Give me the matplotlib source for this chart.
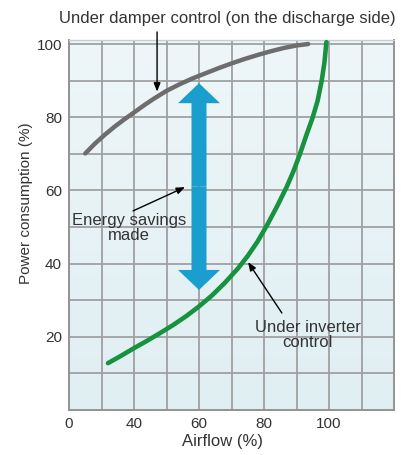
import matplotlib
matplotlib.use("Agg")
import matplotlib.pyplot as plt
import numpy as np
from matplotlib.patches import FancyArrowPatch
from matplotlib.colors import LinearSegmentedColormap

# ---- data ----
damper_x = [25, 28, 31, 34, 37, 40, 43, 46, 50, 54, 58, 62, 66, 70, 74, 78, 82, 86, 90, 93.6]
damper_y = [70.1, 72.8, 75.2, 77.4, 79.4, 81.3, 83.2, 85.0, 87.2, 89.0, 90.6, 92.0, 93.4, 94.7, 95.9, 97.0, 98.0, 98.9, 99.6, 100.0]

inverter_x = [32, 36, 40, 44, 48, 52, 56, 60, 64, 68, 72, 75, 78, 81, 84, 87, 89, 91, 93, 95, 96.5, 97.8, 98.6, 99.2]
inverter_y = [12.8, 14.8, 16.9, 18.9, 21.0, 23.2, 25.6, 28.3, 31.3, 34.8, 38.7, 42.1, 46.0, 50.6, 55.6, 61.0, 65.1, 69.8, 75.0, 80.0, 84.5, 90.2, 95.0, 100.5]

xtick_values = [20, 40, 60, 80, 100]
xtick_labels = ["0", "40", "60", "80", "100"]
ytick_values = [20, 40, 60, 80, 100]
ytick_labels = ["20", "40", "60", "80", "100"]

savings_x = 60
savings_top = 89.3
savings_bottom = 32.8

title_text = "Under damper control (on the discharge side)"
savings_text = "Energy savings\nmade"
inverter_text = "Under inverter\ncontrol"
xlabel_text = "Airflow (%)"
ylabel_text = "Power consumption (%)"

# ---- style ----
plt.rcParams['font.family'] = ['Liberation Sans', 'DejaVu Sans']
txt_color = '#333333'
grid_color = '#a0a0a0'

fig = plt.figure(figsize=(4.01, 4.55), dpi=100)
ax = fig.add_axes([69/401, 1-410/455, 325/401, 370/455])

# background gradient
cmap = LinearSegmentedColormap.from_list('bg', ['#e0eff2', '#eef6f9'])
grad = np.linspace(0, 1, 256).reshape(-1, 1)
ax.imshow(grad, extent=[0, 1, 0, 1], transform=ax.transAxes, cmap=cmap,
          origin='lower', aspect='auto', zorder=0)
ax.set_xlim(20, 120)
ax.set_ylim(0, 101.1)

ax.set_xticks(xtick_values)
ax.set_xticklabels(xtick_labels)
ax.set_xticks([30, 50, 70, 90, 110], minor=True)
ax.set_yticks(ytick_values)
ax.set_yticklabels(ytick_labels)
ax.set_yticks([10, 30, 50, 70, 90], minor=True)
ax.grid(True, which='both', color=grid_color, lw=1.3, zorder=1)
ax.set_axisbelow(True)
ax.tick_params(which='both', length=0, pad=5, labelsize=11, labelcolor=txt_color)

for side in ['left', 'bottom', 'right']:
    ax.spines[side].set_color('#939393')
    ax.spines[side].set_linewidth(1.4)
ax.spines['top'].set_color('#c5ced2')
ax.spines['top'].set_linewidth(1.0)

# curves
ax.plot(damper_x, damper_y, color='#6d6d6d', lw=3.2, solid_capstyle='round',
        solid_joinstyle='round', zorder=3)
ax.plot(inverter_x, inverter_y, color='#17923e', lw=3.3, solid_capstyle='round',
        solid_joinstyle='round', zorder=3)

# energy-savings double arrow (two filled halves)
mid = (savings_top + savings_bottom) / 2
for end in (savings_top, savings_bottom):
    p = FancyArrowPatch((savings_x, mid), (savings_x, end),
                        arrowstyle='simple,head_length=14.4,head_width=30.2,tail_width=10.8',
                        mutation_scale=1, shrinkA=0, shrinkB=0,
                        color='#1a9ecd', lw=0, zorder=4)
    ax.add_patch(p)

arrow_kw = dict(arrowstyle='-|>,head_length=0.5,head_width=0.2', color='black',
                lw=1.0, shrinkA=0, shrinkB=0)
ax.annotate('', xy=(47.1, 87.0), xytext=(47.1, 103.3), arrowprops=arrow_kw,
            annotation_clip=False, zorder=5)
ax.annotate('', xy=(55.7, 60.9), xytext=(39.7, 54.4), arrowprops=arrow_kw, zorder=5)
ax.annotate('', xy=(75.1, 40.4), xytext=(85.5, 26.5), arrowprops=arrow_kw, zorder=5)

ax.text(38.5, 49.7, savings_text, ha='center', va='center', fontsize=12,
        color=txt_color, linespacing=1.0, zorder=6)
ax.text(93.5, 20.5, inverter_text, ha='center', va='center', fontsize=12,
        color=txt_color, linespacing=1.0, zorder=6)

fig.text(227/401, 1-18/455, title_text, ha='center', va='center', fontsize=12,
         color=txt_color)

ax.set_xlabel(xlabel_text, fontsize=12, color=txt_color)
ax.xaxis.set_label_coords(0.471, -0.065)
ax.set_ylabel(ylabel_text, fontsize=11, color=txt_color)
ax.yaxis.set_label_coords(-0.111, 0.559)

fig.savefig('out.png', dpi=100, facecolor='white')
